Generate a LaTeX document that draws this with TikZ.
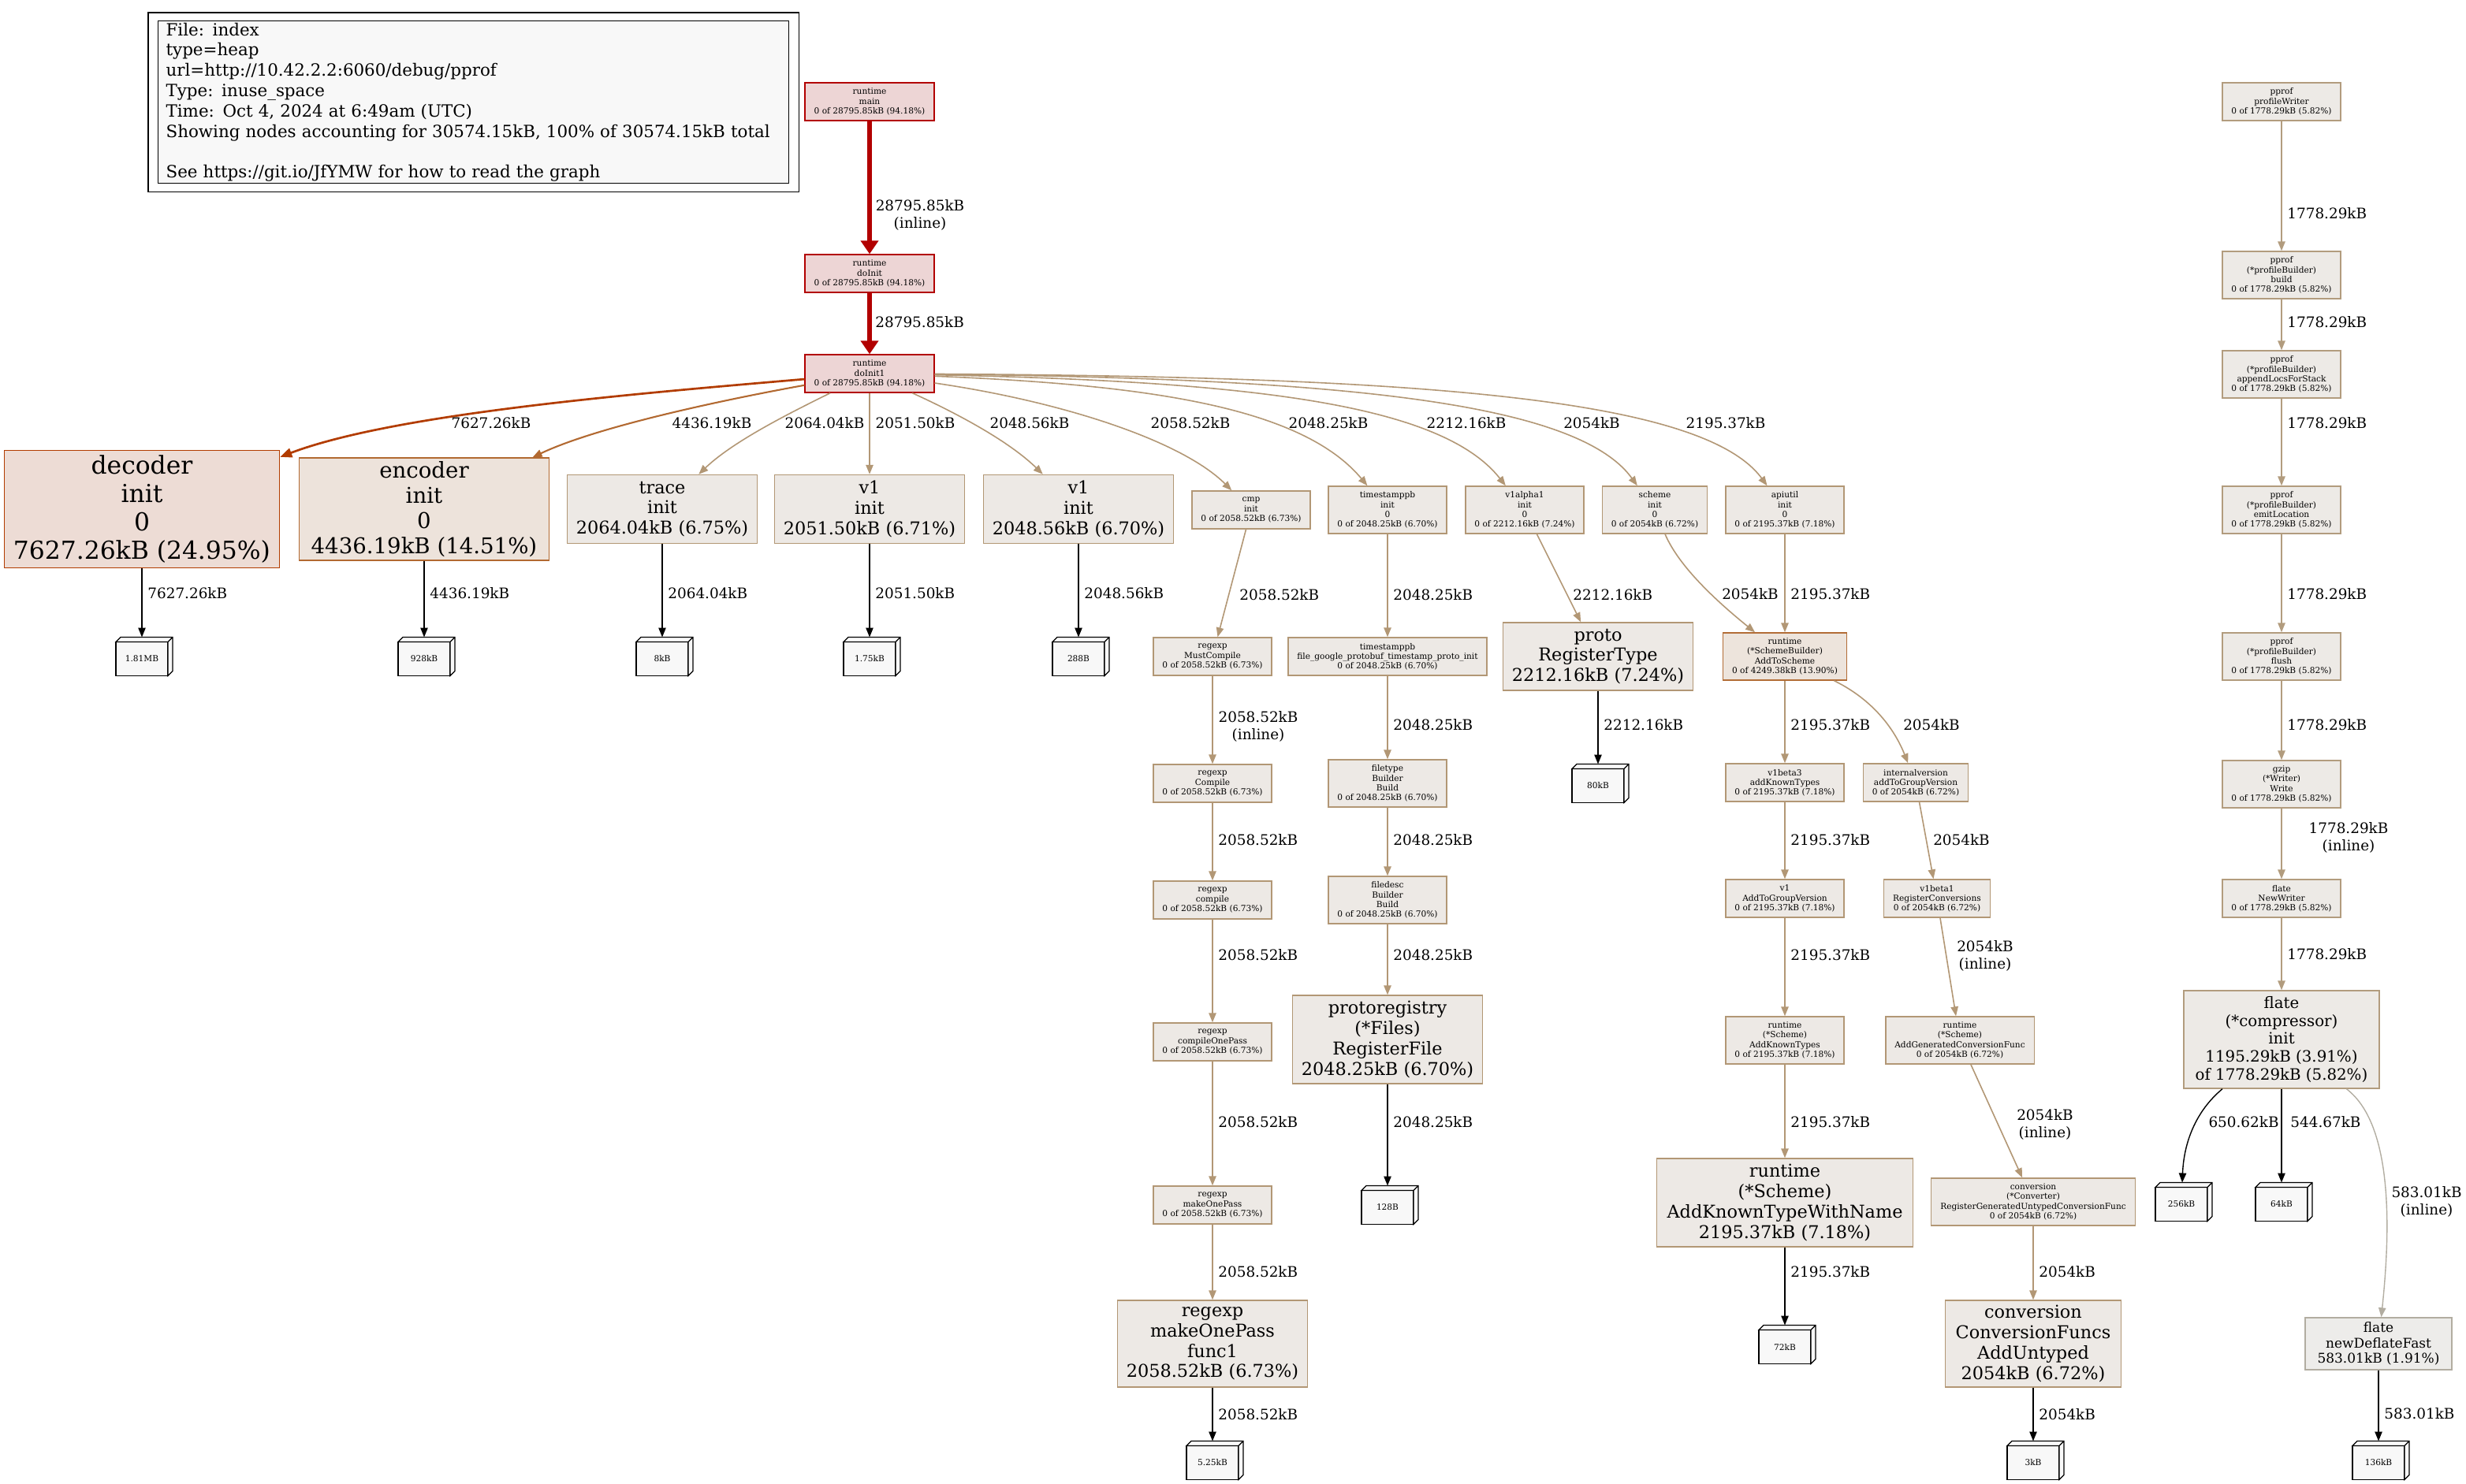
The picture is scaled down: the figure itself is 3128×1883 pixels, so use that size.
\documentclass[tikz,border=0pt]{standalone}
\usepackage{fontspec}
\setmainfont{DejaVu Serif}
\usepackage{tikz}
\usetikzlibrary{arrows.meta,fit}

\definecolor{hotfg}{HTML}{B20000}
\definecolor{hotbg}{HTML}{EDD5D5}
\definecolor{decfg}{HTML}{B23C00}
\definecolor{decbg}{HTML}{EDDCD5}
\definecolor{encfg}{HTML}{B26931}
\definecolor{encbg}{HTML}{EDE3DB}
\definecolor{schfg}{HTML}{B26D36}
\definecolor{schbg}{HTML}{EDE4DC}
\definecolor{tanfg}{HTML}{B29775}
\definecolor{tanbg}{HTML}{EDE9E5}
\definecolor{flfg}{HTML}{B29C7E}
\definecolor{flbg}{HTML}{EDEAE6}
\definecolor{grfg}{HTML}{B2ADA1}
\definecolor{grbg}{HTML}{EDECEA}
\definecolor{leafbg}{HTML}{F8F8F8}

\newcommand\smallfn{\fontsize{5.3}{6.1}\selectfont}
\newcommand\bigfn{\fontsize{11.2}{12.9}\selectfont}
\newcommand\decfn{\fontsize{15.7}{18}\selectfont}
\newcommand\encfn{\fontsize{13.8}{15.9}\selectfont}
\newcommand\comprfn{\fontsize{9.9}{11.4}\selectfont}
\newcommand\ndffn{\fontsize{8.5}{9.8}\selectfont}
\newcommand\edgefn{\fontsize{9.2}{10.6}\selectfont}
\newcommand\legendfn{\fontsize{10.7}{12.9}\selectfont}

\begin{document}
\begin{tikzpicture}[x=.5pt,y=-.5pt,
    fn/.style={draw,align=center,inner xsep=5.75pt,inner ysep=0pt,line width=.7pt},
    sm/.style={fn,font=\smallfn,minimum height=24pt},
    smq/.style={sm,minimum height=30pt},
    big/.style={fn,font=\bigfn,minimum width=120.5pt,minimum height=43.5pt},
    hotbox/.style={draw=hotfg,fill=hotbg},
    decbox/.style={draw=decfg,fill=decbg},
    encbox/.style={draw=encfg,fill=encbg},
    schbox/.style={draw=schfg,fill=schbg},
    tanbox/.style={draw=tanfg,fill=tanbg},
    flbox/.style={draw=flfg,fill=flbg},
    grbox/.style={draw=grfg,fill=grbg},
    leaf/.style={draw,fill=leafbg,line width=.6pt,minimum width=33pt,minimum height=21.5pt,
      inner sep=0pt,outer xsep=0pt,outer ysep=3pt,font=\smallfn},
    leafline/.style={draw=black,fill=leafbg,line width=.6pt},
    e/.style={line width=.8pt,-{Triangle[length=6pt,width=4.7pt]}},
    hotline/.style={draw=hotfg,line width=3.3pt,-{Triangle[length=8.5pt,width=11pt]}},
    decline/.style={draw=decfg,line width=1.35pt,-{Triangle[length=7.5pt,width=6pt]}},
    encline/.style={e,draw=encfg,line width=1.05pt},
    tanline/.style={e,draw=tanfg},
    flline/.style={e,draw=flfg},
    grline/.style={e,draw=grfg,line width=.7pt},
    leafedge/.style={e,draw=black,line width=.7pt},
    elab/.style={font=\edgefn,inner sep=0pt,align=center}]
  \useasboundingbox (0,0) rectangle (3128,1883);

  % legend
  \node[fn,draw=black,fill=leafbg,line width=.6pt,font=\legendfn,align=left,anchor=north west,
    text width=390pt,inner xsep=5pt,minimum height=103pt] (legend) at (200,26)
    {File: index\\type=heap\\url=http://10.42.2.2:6060/debug/pprof\\Type: inuse\_space\\
     Time: Oct 4, 2024 at 6:49am (UTC)\\
     Showing nodes accounting for 30574.15kB, 100\% of 30574.15kB total\\[12.9pt]
     See https://git.io/JfYMW for how to read the graph};
  \node[draw,line width=.6pt,fit=(legend),inner xsep=6pt,inner ysep=5pt] (cluster) {};

  % runtime chain and init row
  \node[sm,hotbox] (main) at (1103,129) {runtime\\main\\0 of 28795.85kB (94.18\%)};
  \node[sm,hotbox] (doinit) at (1103,347) {runtime\\doInit\\0 of 28795.85kB (94.18\%)};
  \node[sm,hotbox] (doinit1) at (1103,474) {runtime\\doInit1\\0 of 28795.85kB (94.18\%)};
  \node[big,decbox,font=\decfn,minimum width=173.5pt,minimum height=74.5pt] (decoder) at (180,646)
    {decoder\\init\\0\\7627.26kB (24.95\%)};
  \node[big,encbox,font=\encfn,minimum width=158.5pt,minimum height=65pt] (encoder) at (538,646)
    {encoder\\init\\0\\4436.19kB (14.51\%)};
  \node[big,tanbox] (trace) at (840,646) {trace\\init\\2064.04kB (6.75\%)};
  \node[big,tanbox] (v1a) at (1103,646) {v1\\init\\2051.50kB (6.71\%)};
  \node[big,tanbox] (v1b) at (1368,646) {v1\\init\\2048.56kB (6.70\%)};
  \node[sm,tanbox] (cmp) at (1587,647) {cmp\\init\\0 of 2058.52kB (6.73\%)};
  \node[smq,tanbox] (tsinit) at (1760,647) {timestamppb\\init\\0\\0 of 2048.25kB (6.70\%)};
  \node[smq,tanbox] (v1alpha) at (1934,647) {v1alpha1\\init\\0\\0 of 2212.16kB (7.24\%)};
  \node[smq,tanbox] (scheme) at (2099,647) {scheme\\init\\0\\0 of 2054kB (6.72\%)};
  \node[smq,tanbox] (apiutil) at (2264,647) {apiutil\\init\\0\\0 of 2195.37kB (7.18\%)};

  % pprof / flate column
  \node[sm,flbox] (pw) at (2894,129) {pprof\\profileWriter\\0 of 1778.29kB (5.82\%)};
  \node[smq,flbox] (build) at (2894,349) {pprof\\(*profileBuilder)\\build\\0 of 1778.29kB (5.82\%)};
  \node[smq,flbox] (append) at (2894,475) {pprof\\(*profileBuilder)\\appendLocsForStack\\0 of 1778.29kB (5.82\%)};
  \node[smq,flbox] (emit) at (2894,647) {pprof\\(*profileBuilder)\\emitLocation\\0 of 1778.29kB (5.82\%)};
  \node[smq,flbox] (flush) at (2894,833) {pprof\\(*profileBuilder)\\flush\\0 of 1778.29kB (5.82\%)};
  \node[smq,flbox] (gzw) at (2894,995) {gzip\\(*Writer)\\Write\\0 of 1778.29kB (5.82\%)};
  \node[sm,flbox] (neww) at (2894,1140) {flate\\NewWriter\\0 of 1778.29kB (5.82\%)};
  \node[fn,flbox,font=\comprfn,minimum width=124pt,minimum height=62pt] (compr) at (2894,1319)
    {flate\\(*compressor)\\init\\1195.29kB (3.91\%)\\of 1778.29kB (5.82\%)};
  \node[fn,grbox,font=\ndffn,minimum width=93pt,minimum height=33pt] (ndf) at (3017,1705)
    {flate\\newDeflateFast\\583.01kB (1.91\%)};

  % regexp column
  \node[sm,tanbox] (mustc) at (1538,833) {regexp\\MustCompile\\0 of 2058.52kB (6.73\%)};
  \node[sm,tanbox] (comp) at (1538,994) {regexp\\Compile\\0 of 2058.52kB (6.73\%)};
  \node[sm,tanbox] (compl) at (1538,1142) {regexp\\compile\\0 of 2058.52kB (6.73\%)};
  \node[sm,tanbox] (cop) at (1538,1322) {regexp\\compileOnePass\\0 of 2058.52kB (6.73\%)};
  \node[sm,tanbox] (mop) at (1538,1529) {regexp\\makeOnePass\\0 of 2058.52kB (6.73\%)};
  \node[big,tanbox,minimum width=118pt,minimum height=55pt] (func1) at (1538,1705)
    {regexp\\makeOnePass\\func1\\2058.52kB (6.73\%)};

  % protobuf column
  \node[sm,tanbox] (fgp) at (1760,833) {timestamppb\\file\_google\_protobuf\_timestamp\_proto\_init\\0 of 2048.25kB (6.70\%)};
  \node[smq,tanbox] (ftb) at (1760,994) {filetype\\Builder\\Build\\0 of 2048.25kB (6.70\%)};
  \node[smq,tanbox] (fdb) at (1760,1142) {filedesc\\Builder\\Build\\0 of 2048.25kB (6.70\%)};
  \node[big,tanbox,minimum width=120pt,minimum height=56pt] (preg) at (1760,1319)
    {protoregistry\\(*Files)\\RegisterFile\\2048.25kB (6.70\%)};
  \node[big,tanbox,minimum width=119.5pt,minimum height=43pt] (proto) at (2027,833)
    {proto\\RegisterType\\2212.16kB (7.24\%)};

  % scheme columns
  \node[smq,schbox] (addsch) at (2264,833) {runtime\\(*SchemeBuilder)\\AddToScheme\\0 of 4249.38kB (13.90\%)};
  \node[sm,tanbox] (v1b3) at (2264,993) {v1beta3\\addKnownTypes\\0 of 2195.37kB (7.18\%)};
  \node[sm,tanbox] (v1agv) at (2264,1140) {v1\\AddToGroupVersion\\0 of 2195.37kB (7.18\%)};
  \node[smq,tanbox] (aktypes) at (2264,1320) {runtime\\(*Scheme)\\AddKnownTypes\\0 of 2195.37kB (7.18\%)};
  \node[big,tanbox,minimum width=162.5pt,minimum height=56pt] (aktwn) at (2264,1526)
    {runtime\\(*Scheme)\\AddKnownTypeWithName\\2195.37kB (7.18\%)};
  \node[sm,tanbox] (intver) at (2430,993) {internalversion\\addToGroupVersion\\0 of 2054kB (6.72\%)};
  \node[sm,tanbox] (v1b1) at (2457,1140) {v1beta1\\RegisterConversions\\0 of 2054kB (6.72\%)};
  \node[smq,tanbox] (agcf) at (2486,1320) {runtime\\(*Scheme)\\AddGeneratedConversionFunc\\0 of 2054kB (6.72\%)};
  \node[smq,tanbox] (conv) at (2579,1525) {conversion\\(*Converter)\\RegisterGeneratedUntypedConversionFunc\\0 of 2054kB (6.72\%)};
  \node[big,tanbox,minimum width=111.5pt,minimum height=55pt] (addunt) at (2579,1705)
    {conversion\\ConversionFuncs\\AddUntyped\\2054kB (6.72\%)};

  % size leaves
  \node[leaf] (l181) at (180,836) {1.81MB};
  \node[leaf] (l928) at (538,836) {928kB};
  \node[leaf] (l8k) at (840,836) {8kB};
  \node[leaf] (l175) at (1103,836) {1.75kB};
  \node[leaf] (l288) at (1368,836) {288B};
  \node[leaf] (l80k) at (2027,997) {80kB};
  \node[leaf] (l128) at (1760,1532) {128B};
  \node[leaf] (l256) at (2767,1528) {256kB};
  \node[leaf] (l64k) at (2894,1528) {64kB};
  \node[leaf] (l72k) at (2264,1709) {72kB};
  \node[leaf] (l525) at (1538,1856) {5.25kB};
  \node[leaf] (l3k) at (2579,1856) {3kB};
  \node[leaf] (l136) at (3017,1856) {136kB};
  \foreach \n in {l181,l928,l8k,l175,l288,l80k,l128,l256,l64k,l72k,l525,l3k,l136}{
    \filldraw[leafline] ([yshift=-3pt]\n.north west) -- ([xshift=3pt]\n.north west)
      -- ([xshift=3pt]\n.north east) -- ([shift={(3pt,6pt)}]\n.south east)
      -- ([yshift=3pt]\n.south east) -- ([yshift=-3pt]\n.north east) -- cycle
      ([yshift=-3pt]\n.north east) -- ([xshift=3pt]\n.north east);
  }

  % edges
  \foreach \a/\b in {main/doinit,doinit/doinit1}
    \draw[hotline] (\a) -- (\b);
  \draw[decline] (doinit1) .. controls (800,500) and (500,525) .. (decoder);
  \draw[encline] (doinit1) .. controls (930,505) and (760,540) .. (encoder);
  \draw[tanline] (doinit1) .. controls (1000,525) and (930,560) .. (trace);
  \draw[tanline] (doinit1) .. controls (1215,525) and (1280,560) .. (v1b);
  \draw[tanline] (doinit1) .. controls (1350,510) and (1500,560) .. (cmp);
  \draw[tanline] (doinit1) .. controls (1450,488) and (1650,515) .. (tsinit);
  \draw[tanline] (doinit1) .. controls (1600,484) and (1830,515) .. (v1alpha);
  \draw[tanline] (doinit1) .. controls (1700,480) and (2000,510) .. (scheme);
  \draw[tanline] (doinit1) .. controls (1800,478) and (2160,505) .. (apiutil);
  \draw[tanline] (scheme) .. controls (2130,720) and (2180,765) .. (addsch);
  \draw[tanline] (addsch) .. controls (2380,890) and (2405,930) .. (intver);
  \foreach \a/\b in {doinit1/v1a,cmp/mustc,tsinit/fgp,v1alpha/proto,apiutil/addsch,
      mustc/comp,comp/compl,compl/cop,cop/mop,mop/func1,fgp/ftb,ftb/fdb,fdb/preg,
      addsch/v1b3,v1b3/v1agv,v1agv/aktypes,aktypes/aktwn,intver/v1b1,v1b1/agcf,agcf/conv,conv/addunt}
    \draw[tanline] (\a) -- (\b);
  \foreach \a/\b in {pw/build,build/append,append/emit,emit/flush,flush/gzw,gzw/neww,neww/compr}
    \draw[flline] (\a) -- (\b);
  \draw[grline] (compr) .. controls (3040,1430) and (3030,1580) .. (ndf);
  \foreach \a/\b in {decoder/l181,encoder/l928,trace/l8k,v1a/l175,v1b/l288,proto/l80k,preg/l128,
      func1/l525,aktwn/l72k,addunt/l3k,compr/l64k,ndf/l136}
    \draw[leafedge] (\a) -- (\b);
  \draw[leafedge] (compr) .. controls (2785,1410) and (2770,1450) .. (l256);

  % edge labels
  \node[elab] (m-inl) at (1167,273) {28795.85kB\\(inline)};
  \foreach \x/\lab in {623/7627.26kB,903/4436.19kB,1046/2064.04kB,1161/2051.50kB,1306/2048.56kB,
      1510/2058.52kB,1685/2048.25kB,1860/2212.16kB,2019/2054kB,2189/2195.37kB}
    \node[elab] (f-\x) at (\x,537) {\lab};
  \foreach \x/\y/\lab in {1110/409/28795.85kB,187/753/7627.26kB,545/753/4436.19kB,847/753/2064.04kB,
      1110/753/2051.50kB,1375/753/2048.56kB,1572/755/2058.52kB,1767/755/2048.25kB,1995/755/2212.16kB,
      2271/754/2195.37kB,2901/271/1778.29kB,2901/409/1778.29kB,2901/537/1778.29kB,2901/754/1778.29kB,
      2901/920/1778.29kB,2901/1211/1778.29kB,2905/1424/544.67kB,3024/1794/583.01kB,
      1545/1066/2058.52kB,1545/1212/2058.52kB,1545/1424/2058.52kB,1545/1614/2058.52kB,1545/1795/2058.52kB,
      1767/920/2048.25kB,1767/1066/2048.25kB,1767/1212/2048.25kB,1767/1424/2048.25kB,2034/920/2212.16kB,
      2271/920/2195.37kB,2271/1066/2195.37kB,2271/1212/2195.37kB,2271/1424/2195.37kB,2271/1614/2195.37kB,
      2586/1614/2054kB,2586/1795/2054kB}
    \node[elab,anchor=west] (w-\x-\y) at (\x,\y) {\lab};
  \node[elab] (s-sch) at (2220,754) {2054kB};
  \node[elab] (s-int) at (2450,920) {2054kB};
  \node[elab] (s-v1b1) at (2488,1066) {2054kB};
  \node[elab] (s-agcf) at (2518,1213) {2054kB\\(inline)};
  \node[elab] (s-conv) at (2594,1427) {2054kB\\(inline)};
  \node[elab] (r-inl) at (1596,922) {2058.52kB\\(inline)};
  \node[elab] (g-inl) at (2979,1063) {1778.29kB\\(inline)};
  \node[elab] (c-256) at (2846,1424) {650.62kB};
  \node[elab] (c-ndf) at (3078,1525) {583.01kB\\(inline)};
\end{tikzpicture}
\end{document}
